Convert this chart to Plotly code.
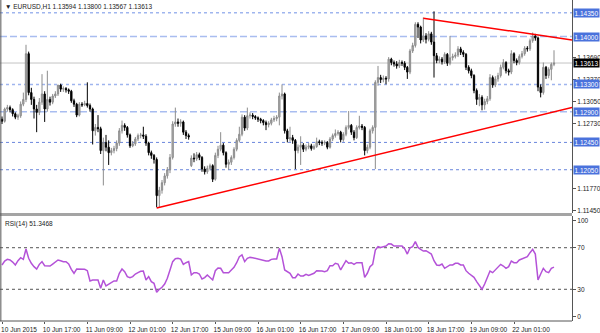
import plotly.graph_objects as go

# ---------------- data (EURUSD H1) ----------------
open_ = [
 1.1279, 1.1276, 1.1294, 1.1296, 1.1293, 1.1287, 1.1282, 1.1284, 1.1301, 1.1308, 1.1375, 1.1318,
 1.1308, 1.1294, 1.1289, 1.1304, 1.1316, 1.1294, 1.1308, 1.1304, 1.1313, 1.1316, 1.1329, 1.1323,
 1.1324, 1.1322, 1.1320, 1.1306, 1.1301, 1.1285, 1.1301, 1.1300, 1.1302, 1.1299, 1.1294, 1.1262,
 1.1267, 1.1265, 1.1233, 1.1245, 1.1238, 1.1230, 1.1233, 1.1236, 1.1244, 1.1262, 1.1270, 1.1267,
 1.1256, 1.1240, 1.1243, 1.1250, 1.1255, 1.1256, 1.1254, 1.1244, 1.1230, 1.1226, 1.1220, 1.1167,
 1.1175, 1.1186, 1.1196, 1.1205, 1.1223, 1.1272, 1.1275, 1.1273, 1.1275, 1.1260, 1.1255, 1.1211,
 1.1222, 1.1221, 1.1227, 1.1223, 1.1206, 1.1202, 1.1207, 1.1211, 1.1191, 1.1226, 1.1235, 1.1241,
 1.1230, 1.1213, 1.1216, 1.1223, 1.1235, 1.1248, 1.1257, 1.1282, 1.1266, 1.1284, 1.1285, 1.1283,
 1.1281, 1.1279, 1.1277, 1.1274, 1.1271, 1.1273, 1.1278, 1.1280, 1.1282, 1.1313, 1.1316, 1.1262,
 1.1250, 1.1252, 1.1248, 1.1233, 1.1238, 1.1241, 1.1235, 1.1238, 1.1240, 1.1236, 1.1239, 1.1246,
 1.1245, 1.1244, 1.1245, 1.1238, 1.1250, 1.1255, 1.1258, 1.1260, 1.1249, 1.1257, 1.1267, 1.1270,
 1.1260, 1.1252, 1.1267, 1.1269, 1.1267, 1.1233, 1.1238, 1.1262, 1.1267, 1.1333, 1.1340, 1.1337,
 1.1339, 1.1338, 1.1367, 1.1362, 1.1360, 1.1357, 1.1362, 1.1361, 1.1355, 1.1348, 1.1379, 1.1387,
 1.1418, 1.1414, 1.1395, 1.1401, 1.1396, 1.1404, 1.1392, 1.1372, 1.1365, 1.1367, 1.1363, 1.1374,
 1.1361, 1.1369, 1.1371, 1.1373, 1.1382, 1.1377, 1.1374, 1.1355, 1.1350, 1.1343, 1.1321, 1.1308,
 1.1311, 1.1300, 1.1305, 1.1309, 1.1340, 1.1329, 1.1338, 1.1343, 1.1355, 1.1362, 1.1350, 1.1348,
 1.1375, 1.1365, 1.1362, 1.1371, 1.1375, 1.1383, 1.1382, 1.1394, 1.1401, 1.1398, 1.1326, 1.1318,
 1.1355, 1.1343, 1.1352, 1.13594]
high = [
 1.1283, 1.1296, 1.1300, 1.1299, 1.1295, 1.1289, 1.1287, 1.1305, 1.1318, 1.1388, 1.1378, 1.1325,
 1.1312, 1.1300, 1.1310, 1.1345, 1.1320, 1.1350, 1.1312, 1.1316, 1.1320, 1.1329, 1.1331, 1.1327,
 1.1326, 1.1324, 1.1322, 1.1309, 1.1303, 1.1304, 1.1304, 1.1306, 1.1333, 1.1302, 1.1296, 1.1272,
 1.1285, 1.1268, 1.1252, 1.1256, 1.1248, 1.1237, 1.1240, 1.1248, 1.1266, 1.1277, 1.1273, 1.1269,
 1.1258, 1.1247, 1.1253, 1.1258, 1.1259, 1.1268, 1.1257, 1.1246, 1.1233, 1.1228, 1.1223, 1.1180,
 1.1190, 1.1200, 1.1209, 1.1228, 1.1276, 1.1296, 1.1280, 1.1279, 1.1277, 1.1263, 1.1258, 1.1226,
 1.1229, 1.1231, 1.1230, 1.1225, 1.1210, 1.1211, 1.1214, 1.1213, 1.1230, 1.1240, 1.1260, 1.1244,
 1.1232, 1.1220, 1.1226, 1.1238, 1.1251, 1.1268, 1.1286, 1.1285, 1.1296, 1.1289, 1.1288, 1.1285,
 1.1283, 1.1281, 1.1279, 1.1277, 1.1276, 1.1281, 1.1284, 1.1285, 1.1318, 1.1330, 1.1318, 1.1265,
 1.1268, 1.1256, 1.1250, 1.1242, 1.1254, 1.1244, 1.1242, 1.1244, 1.1243, 1.1242, 1.1252, 1.1249,
 1.1248, 1.1248, 1.1247, 1.1253, 1.1258, 1.1264, 1.1263, 1.1262, 1.1260, 1.1270, 1.1291, 1.1272,
 1.1263, 1.1270, 1.1284, 1.1272, 1.1269, 1.1242, 1.1265, 1.1270, 1.1336, 1.1357, 1.1344, 1.1343,
 1.1342, 1.1370, 1.1369, 1.1365, 1.1364, 1.1366, 1.1365, 1.1364, 1.1357, 1.1382, 1.1391, 1.1421,
 1.1421, 1.1416, 1.1428, 1.1405, 1.1408, 1.1407, 1.1437, 1.1376, 1.1371, 1.1370, 1.1377, 1.1376,
 1.1401, 1.1375, 1.1377, 1.1386, 1.1385, 1.1380, 1.1376, 1.1358, 1.1353, 1.1345, 1.1324, 1.1316,
 1.1314, 1.1309, 1.1313, 1.1345, 1.1343, 1.1342, 1.1347, 1.1359, 1.1367, 1.1364, 1.1353, 1.1380,
 1.1377, 1.1368, 1.1374, 1.1379, 1.1386, 1.1386, 1.1397, 1.1406, 1.1404, 1.1400, 1.1330, 1.1362,
 1.1357, 1.1355, 1.1362, 1.13800]
low = [
 1.1272, 1.1274, 1.1290, 1.1289, 1.1283, 1.1279, 1.1278, 1.1281, 1.1298, 1.1304, 1.1314, 1.1300,
 1.1280, 1.1260, 1.1285, 1.1300, 1.1275, 1.1290, 1.1299, 1.1301, 1.1310, 1.1313, 1.1319, 1.1319,
 1.1318, 1.1316, 1.1303, 1.1297, 1.1282, 1.1283, 1.1297, 1.1298, 1.1296, 1.1290, 1.1242, 1.1255,
 1.1260, 1.1228, 1.1182, 1.1232, 1.1212, 1.1226, 1.1229, 1.1232, 1.1240, 1.1258, 1.1262, 1.1252,
 1.1237, 1.1238, 1.1240, 1.1247, 1.1251, 1.1250, 1.1240, 1.1226, 1.1221, 1.1214, 1.1150, 1.1149,
 1.1170, 1.1182, 1.1192, 1.1200, 1.1220, 1.1268, 1.1268, 1.1268, 1.1256, 1.1250, 1.1249, 1.1209,
 1.1216, 1.1218, 1.1219, 1.1202, 1.1198, 1.1199, 1.1204, 1.1187, 1.1189, 1.1222, 1.1232, 1.1226,
 1.1208, 1.1205, 1.1212, 1.1220, 1.1232, 1.1245, 1.1254, 1.1262, 1.1263, 1.1280, 1.1279, 1.1278,
 1.1275, 1.1273, 1.1270, 1.1263, 1.1267, 1.1270, 1.1275, 1.1276, 1.1270, 1.1308, 1.1258, 1.1245,
 1.1246, 1.1243, 1.1206, 1.1229, 1.1212, 1.1231, 1.1232, 1.1235, 1.1233, 1.1234, 1.1237, 1.1241,
 1.1240, 1.1241, 1.1235, 1.1236, 1.1247, 1.1252, 1.1255, 1.1245, 1.1246, 1.1254, 1.1264, 1.1256,
 1.1248, 1.1250, 1.1264, 1.1263, 1.1226, 1.1229, 1.1235, 1.1258, 1.1206, 1.1328, 1.1332, 1.1333,
 1.1330, 1.1334, 1.1358, 1.1356, 1.1353, 1.1354, 1.1357, 1.1351, 1.1338, 1.1345, 1.1376, 1.1384,
 1.1398, 1.1390, 1.1392, 1.1390, 1.1393, 1.1388, 1.1340, 1.1361, 1.1361, 1.1359, 1.1360, 1.1357,
 1.1358, 1.1365, 1.1368, 1.1370, 1.1373, 1.1370, 1.1351, 1.1346, 1.1339, 1.1317, 1.1300, 1.1298,
 1.1292, 1.1293, 1.1301, 1.1306, 1.1325, 1.1326, 1.1334, 1.1340, 1.1352, 1.1346, 1.1343, 1.1345,
 1.1361, 1.1358, 1.1359, 1.1368, 1.1372, 1.1378, 1.1379, 1.1391, 1.1394, 1.1320, 1.1311, 1.1315,
 1.1338, 1.1339, 1.1336, 1.13567]
close = [
 1.1276, 1.1294, 1.1296, 1.1293, 1.1287, 1.1282, 1.1284, 1.1301, 1.1308, 1.1375, 1.1318, 1.1308,
 1.1294, 1.1289, 1.1304, 1.1316, 1.1294, 1.1308, 1.1304, 1.1313, 1.1316, 1.1329, 1.1323, 1.1324,
 1.1322, 1.1320, 1.1306, 1.1301, 1.1285, 1.1301, 1.1300, 1.1302, 1.1299, 1.1294, 1.1262, 1.1267,
 1.1265, 1.1233, 1.1245, 1.1238, 1.1230, 1.1233, 1.1236, 1.1244, 1.1262, 1.1270, 1.1267, 1.1256,
 1.1240, 1.1243, 1.1250, 1.1255, 1.1256, 1.1254, 1.1244, 1.1230, 1.1226, 1.1220, 1.1167, 1.1175,
 1.1186, 1.1196, 1.1205, 1.1223, 1.1272, 1.1275, 1.1273, 1.1275, 1.1260, 1.1255, 1.1253, 1.1222,
 1.1221, 1.1227, 1.1223, 1.1206, 1.1202, 1.1207, 1.1211, 1.1191, 1.1226, 1.1235, 1.1241, 1.1230,
 1.1213, 1.1216, 1.1223, 1.1235, 1.1248, 1.1257, 1.1282, 1.1266, 1.1284, 1.1285, 1.1283, 1.1281,
 1.1279, 1.1277, 1.1274, 1.1271, 1.1273, 1.1278, 1.1280, 1.1282, 1.1313, 1.1316, 1.1262, 1.1250,
 1.1252, 1.1248, 1.1233, 1.1238, 1.1241, 1.1235, 1.1238, 1.1240, 1.1236, 1.1239, 1.1246, 1.1245,
 1.1244, 1.1245, 1.1238, 1.1250, 1.1255, 1.1258, 1.1260, 1.1249, 1.1257, 1.1267, 1.1270, 1.1260,
 1.1252, 1.1267, 1.1269, 1.1267, 1.1233, 1.1238, 1.1262, 1.1267, 1.1333, 1.1340, 1.1337, 1.1339,
 1.1338, 1.1367, 1.1362, 1.1360, 1.1357, 1.1362, 1.1361, 1.1355, 1.1348, 1.1379, 1.1387, 1.1418,
 1.1414, 1.1395, 1.1401, 1.1396, 1.1404, 1.1392, 1.1372, 1.1365, 1.1367, 1.1363, 1.1374, 1.1361,
 1.1369, 1.1371, 1.1373, 1.1382, 1.1377, 1.1374, 1.1355, 1.1350, 1.1343, 1.1321, 1.1308, 1.1311,
 1.1300, 1.1305, 1.1309, 1.1340, 1.1329, 1.1338, 1.1343, 1.1355, 1.1362, 1.1350, 1.1348, 1.1375,
 1.1365, 1.1362, 1.1371, 1.1375, 1.1383, 1.1382, 1.1394, 1.1401, 1.1398, 1.1326, 1.1318, 1.1355,
 1.1343, 1.1352, 1.13594, 1.13613]
rsi = [
 53.4, 57.2, 58.8, 58.2, 56.2, 53.4, 57.5, 60.4, 58.8, 68.7, 59.8, 55.0,
 51.8, 49.5, 54.0, 56.6, 52.7, 52.4, 52.4, 54.3, 55.9, 58.2, 57.5, 56.6,
 56.6, 54.3, 49.2, 45.4, 49.5, 49.5, 49.5, 49.2, 47.9, 38.0, 39.0, 39.0,
 39.0, 31.0, 39.0, 33.2, 34.8, 35.8, 38.0, 38.0, 45.4, 49.5, 47.0, 42.2,
 41.2, 42.2, 44.7, 46.0, 47.3, 47.6, 39.0, 42.2, 37.4, 35.8, 27.1, 30.0,
 31.9, 35.1, 40.6, 48.6, 56.6, 59.4, 59.8, 59.1, 54.0, 55.6, 56.6, 43.8,
 46.0, 46.0, 44.7, 39.9, 41.2, 43.8, 41.5, 39.0, 47.9, 50.5, 50.2, 46.0,
 46.0, 46.0, 48.6, 51.1, 55.6, 61.4, 63.0, 56.6, 59.8, 60.7, 60.4, 59.8,
 58.8, 58.2, 57.5, 57.2, 57.2, 58.8, 59.1, 59.1, 69.4, 61.4, 48.6, 47.0,
 45.4, 41.2, 41.2, 44.7, 42.8, 42.8, 44.4, 43.4, 44.1, 45.4, 47.9, 47.9,
 47.6, 47.0, 47.9, 52.7, 52.7, 55.0, 54.3, 48.6, 53.4, 57.5, 55.0, 55.6,
 54.0, 55.6, 55.6, 55.6, 41.5, 45.4, 51.8, 54.0, 67.8, 71.0, 70.3, 70.6,
 71.6, 73.8, 73.5, 71.6, 71.6, 71.9, 71.6, 69.0, 63.9, 70.0, 71.0, 75.8,
 70.3, 68.4, 66.8, 67.1, 65.5, 63.9, 57.5, 53.4, 53.0, 54.3, 50.2, 51.8,
 53.4, 53.4, 55.0, 55.0, 53.4, 53.4, 47.9, 45.4, 43.8, 41.5, 37.4, 33.5,
 30.0, 35.1, 41.5, 47.6, 46.0, 48.6, 51.8, 54.0, 52.4, 50.2, 51.8, 57.2,
 55.6, 55.6, 58.2, 59.4, 60.7, 61.4, 65.2, 68.4, 63.9, 39.0, 44.7, 50.2,
 47.0, 46.0, 50.2, 51.35]

date_tick_bars = [0, 16, 32, 48, 64, 80, 96, 112, 128, 144, 160, 176, 192]
date_tick_labels = ["10 Jun 2015", "10 Jun 17:00", "11 Jun 09:00", "12 Jun 01:00",
                    "12 Jun 17:00", "15 Jun 09:00", "16 Jun 01:00", "16 Jun 17:00",
                    "17 Jun 09:00", "18 Jun 01:00", "18 Jun 17:00", "19 Jun 09:00",
                    "22 Jun 01:00"]
# regular price ticks that are not hidden behind the level boxes
price_ticks = [1.11450, 1.11770, 1.12730, 1.13050, 1.13370, 1.13690]

levels_dotted_light = [1.14350, 1.13300]
levels_dashed = [1.14000, 1.12900]
levels_dotted_dark = [1.12450, 1.12050]
level_labels = [1.14350, 1.14000, 1.13300, 1.12900, 1.12450, 1.12050]
last_price = 1.13613

trend_upper_x = [158, 213.75]
trend_upper_y = [1.1427, 1.1395]
trend_lower_x = [58, 213.75]
trend_lower_y = [1.1149, 1.12961]

rsi_levels = [70, 30]
rsi_last = 51.3468

# ---------------- figure ----------------
bars = list(range(len(close)))
FONT = "Liberation Sans, Arial, sans-serif"
XR = [-0.75, 213.75]

fig = go.Figure()
fig.add_trace(go.Candlestick(
    x=bars, open=open_, high=high, low=low, close=close,
    xaxis="x", yaxis="y", whiskerwidth=0,
    increasing=dict(line=dict(color="#8c8c8c", width=1), fillcolor="#b4b4b4"),
    decreasing=dict(line=dict(color="#000000", width=1), fillcolor="#000000"),
    showlegend=False, hoverinfo="skip"))
fig.add_trace(go.Scatter(x=trend_upper_x, y=trend_upper_y, mode="lines",
                         line=dict(color="#ff0000", width=1.5), xaxis="x", yaxis="y",
                         showlegend=False, hoverinfo="skip"))
fig.add_trace(go.Scatter(x=trend_lower_x, y=trend_lower_y, mode="lines",
                         line=dict(color="#ff0000", width=1.5), xaxis="x", yaxis="y",
                         showlegend=False, hoverinfo="skip"))
fig.add_trace(go.Scatter(x=bars, y=rsi, mode="lines",
                         line=dict(color="#b452d8", width=1.5), xaxis="x2", yaxis="y2",
                         showlegend=False, hoverinfo="skip"))

shapes = []
for lv in levels_dotted_light:
    shapes.append(dict(type="line", xref="x domain", yref="y", x0=0, x1=1, y0=lv, y1=lv,
                       line=dict(color="#9fb5ee", width=1.5, dash="dot"), layer="below"))
for lv in levels_dashed:
    shapes.append(dict(type="line", xref="x domain", yref="y", x0=0, x1=1, y0=lv, y1=lv,
                       line=dict(color="#a9bdf0", width=1.5, dash="7px,3px"), layer="below"))
for lv in levels_dotted_dark:
    shapes.append(dict(type="line", xref="x domain", yref="y", x0=0, x1=1, y0=lv, y1=lv,
                       line=dict(color="#6a86dc", width=1, dash="dot"), layer="below"))
shapes.append(dict(type="line", xref="x domain", yref="y", x0=0, x1=1, y0=last_price, y1=last_price,
                   line=dict(color="#c4c4c4", width=1), layer="below"))
for lv in rsi_levels:
    shapes.append(dict(type="line", xref="x2 domain", yref="y2", x0=0, x1=1, y0=lv, y1=lv,
                       line=dict(color="#555555", width=1, dash="dot"), layer="below"))

MAIN_DOM = [0.3364, 1.0]
RSI_DOM = [0.0, 0.3271]
# panel separator and borders
shapes.append(dict(type="rect", xref="paper", yref="paper", x0=0, x1=1, y0=RSI_DOM[1], y1=MAIN_DOM[0],
                   fillcolor="#a4a4a4", line=dict(width=0)))
shapes.append(dict(type="line", xref="paper", yref="paper", x0=0.0015, x1=0.0015, y0=0, y1=1,
                   line=dict(color="#555555", width=1)))
shapes.append(dict(type="line", xref="paper", yref="paper", x0=0, x1=1, y0=0, y1=0,
                   line=dict(color="#555555", width=1)))

annotations = []
for lv in level_labels:
    annotations.append(dict(xref="paper", yref="y", x=1, y=lv, xanchor="left", yanchor="middle",
                            xshift=1, text=f"{lv:.5f}", showarrow=False, bgcolor="#4a72dc",
                            borderpad=0.5, font=dict(family=FONT, size=6.5, color="#ffffff")))
annotations.append(dict(xref="paper", yref="y", x=1, y=last_price, xanchor="left", yanchor="middle",
                        xshift=1, text=f"{last_price:.5f}", showarrow=False, bgcolor="#000000",
                        borderpad=0.5, font=dict(family=FONT, size=6.5, color="#ffffff")))
annotations.append(dict(xref="paper", yref="paper", x=0, y=1, xanchor="left", yanchor="top",
                        xshift=3, yshift=-1, showarrow=False,
                        text=f"▼ EURUSD,H1 {open_[-1]:.5f} {high[-1]:.5f} {low[-1]:.5f} {close[-1]:.5f}",
                        font=dict(family=FONT, size=6.5, color="#222222")))
annotations.append(dict(xref="paper", yref="paper", x=0, y=RSI_DOM[1], xanchor="left", yanchor="top",
                        xshift=3, yshift=-2, showarrow=False,
                        text=f"RSI(14) {rsi_last:.4f}",
                        font=dict(family=FONT, size=6.5, color="#222222")))

axis_font = dict(family=FONT, size=6.5, color="#222222")
fig.update_layout(
    width=600, height=333,
    margin=dict(l=0, r=28, t=0, b=12),
    paper_bgcolor="#ffffff", plot_bgcolor="#ffffff",
    showlegend=False, hovermode=False,
    shapes=shapes, annotations=annotations,
    xaxis=dict(domain=[0, 1], range=XR, anchor="y", showticklabels=False, showgrid=False,
               zeroline=False, showline=False, ticks="", rangeslider=dict(visible=False)),
    xaxis2=dict(domain=[0, 1], range=XR, anchor="y2", matches="x", showgrid=False, zeroline=False,
                tickmode="array", tickvals=date_tick_bars, ticktext=date_tick_labels,
                ticks="outside", ticklen=2, tickcolor="#555555", ticklabelshift=17,
                tickfont=axis_font, showline=False),
    yaxis=dict(domain=MAIN_DOM, range=[1.11416, 1.14536], anchor="x", side="right",
               tickmode="array", tickvals=price_ticks, tickformat=".5f", ticks="outside",
               ticklen=3, tickcolor="#555555", showgrid=False, zeroline=False,
               showline=True, linecolor="#555555", linewidth=1, tickfont=axis_font),
    yaxis2=dict(domain=RSI_DOM, range=[-0.5, 100.5], anchor="x2", side="right",
                tickmode="array", tickvals=[96, 70, 30, 4], ticktext=["100", "70", "30", "0"],
                ticks="outside", ticklen=3, tickcolor="#555555", showgrid=False, zeroline=False,
                showline=True, linecolor="#555555", linewidth=1, tickfont=axis_font),
)

fig.write_html("out.html")
